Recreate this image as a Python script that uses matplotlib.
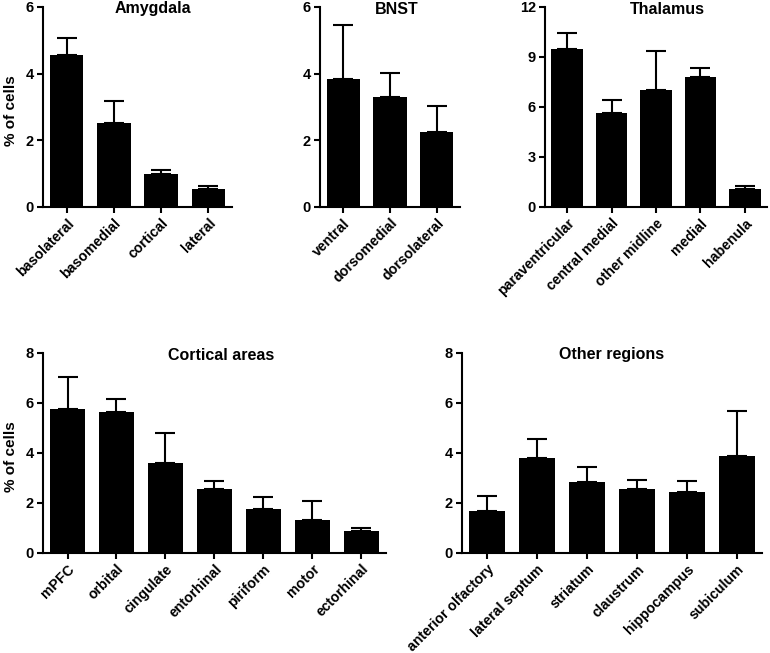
import matplotlib
matplotlib.use('Agg')
import matplotlib.pyplot as plt
import matplotlib.transforms as mtransforms

plt.rcParams['font.family'] = ['Liberation Sans', 'DejaVu Sans']

# ---- data (mean, upper SEM end)
amyg_labels = ['basolateral', 'basomedial', 'cortical', 'lateral']
amyg_mean = [4.56, 2.52, 1.00, 0.55]
amyg_err = [0.51, 0.66, 0.12, 0.08]

bnst_labels = ['ventral', 'dorsomedial', 'dorsolateral']
bnst_mean = [3.83, 3.30, 2.24]
bnst_err = [1.64, 0.71, 0.78]

thal_labels = ['paraventricular', 'central medial', 'other midline',
               'medial', 'habenula']
thal_mean = [9.46, 5.64, 6.99, 7.83, 1.06]
thal_err = [1.00, 0.75, 2.35, 0.48, 0.18]

cort_labels = ['mPFC', 'orbital', 'cingulate', 'entorhinal', 'piriform',
               'motor', 'ectorhinal']
cort_mean = [5.76, 5.63, 3.60, 2.55, 1.77, 1.33, 0.87]
cort_err = [1.29, 0.52, 1.21, 0.33, 0.48, 0.75, 0.14]

other_labels = ['anterior olfactory', 'lateral septum', 'striatum',
                'claustrum', 'hippocampus', 'subiculum']
other_mean = [1.67, 3.80, 2.83, 2.57, 2.43, 3.87]
other_err = [0.60, 0.76, 0.62, 0.35, 0.46, 1.82]

W, H = 770, 653
fig = plt.figure(figsize=(W / 100, H / 100), dpi=100)
# nudge rotated tick labels a bit to the right, like the original
shift = mtransforms.ScaledTranslation(6 / 100, 2 / 100, fig.dpi_scale_trans)


def add_ax(left, top, right, bottom):
    return fig.add_axes([left / W, 1 - bottom / H, (right - left) / W,
                         (bottom - top) / H])


def panel(ax, title, labels, mean, err, ymax, yticks, tx, ylab=None):
    x = list(range(len(labels)))
    ax.bar(x, mean, width=0.71, color='black', zorder=2)
    ax.errorbar(x, mean, yerr=[[0] * len(mean), err], fmt='none',
                ecolor='black', elinewidth=1.5, capsize=7, capthick=1.5,
                zorder=1)
    ax.set_xlim(-0.5, len(labels) - 0.5)
    ax.set_ylim(0, ymax)
    ax.set_yticks(yticks)
    ax.set_xticks(x)
    ax.set_xticklabels(labels, rotation=45, ha='right',
                       rotation_mode='anchor', fontsize=10.2,
                       fontweight='bold')
    for t in ax.get_xticklabels():
        t.set_transform(t.get_transform() + shift)
    for t in ax.get_yticklabels():
        t.set_fontsize(10.5)
        t.set_fontweight('bold')
    ax.spines['top'].set_visible(False)
    ax.spines['right'].set_visible(False)
    ax.spines['left'].set_linewidth(1.5)
    ax.spines['bottom'].set_linewidth(1.5)
    ax.tick_params(width=1.5, length=4, pad=2.5)
    ax.text(tx, 0.99, title, transform=ax.transAxes, ha='center',
            va='center', fontsize=11.5, fontweight='bold')
    if ylab is not None:
        ax.set_ylabel('% of cells', fontsize=11, fontweight='bold')
        ax.yaxis.set_label_coords(ylab, 0.48)


ax1 = add_ax(43, 7, 232, 207)
panel(ax1, 'Amygdala', amyg_labels, amyg_mean, amyg_err, 6, [0, 2, 4, 6],
      0.58, ylab=-0.132)
ax2 = add_ax(320, 7, 460, 207)
panel(ax2, 'BNST', bnst_labels, bnst_mean, bnst_err, 6, [0, 2, 4, 6], 0.55)
ax3 = add_ax(545, 7, 767, 207)
panel(ax3, 'Thalamus', thal_labels, thal_mean, thal_err, 12,
      [0, 3, 6, 9, 12], 0.55)
ax4 = add_ax(43, 353, 386, 553)
panel(ax4, 'Cortical areas', cort_labels, cort_mean, cort_err, 8,
      [0, 2, 4, 6, 8], 0.52, ylab=-0.073)
ax5 = add_ax(462, 353, 762, 553)
panel(ax5, 'Other regions', other_labels, other_mean, other_err, 8,
      [0, 2, 4, 6, 8], 0.50)

fig.savefig('out.png', dpi=100)
